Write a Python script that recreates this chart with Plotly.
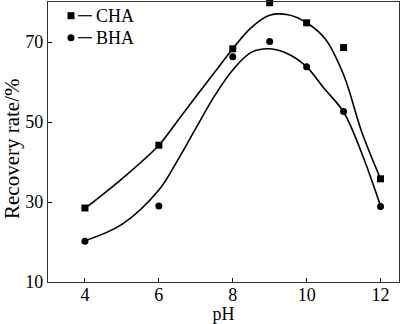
import plotly.graph_objects as go

# Measured points
ph = [4, 6, 8, 9, 10, 11, 12]
cha = [28.5, 44.2, 68.3, 79.8, 74.8, 68.6, 35.8]
bha = [20.2, 29.0, 66.3, 70.1, 63.8, 52.6, 28.9]

# Fitted curves
fit_x = [4, 5, 6, 6.5, 7, 7.5, 8, 8.5, 9, 9.5, 10, 10.5, 11, 11.5, 12]
cha_fit_y = [28.4, 35.8, 44.2, 50.2, 56.3, 62.3, 68.3, 73.6, 76.7, 76.8, 74.8, 70.8, 61.8, 47.3, 35.8]
bha_fit_y = [20.3, 24.4, 33.0, 40.3, 48.4, 56.4, 63.0, 67.4, 68.3, 67.0, 63.8, 58.1, 52.5, 42.0, 29.0]

x_ticks = [4, 6, 8, 10, 12]
y_ticks = [10, 30, 50, 70]
legend_names = ["CHA", "BHA"]
x_title = "pH"
y_title = "Recovery rate/%"

FONT = "Liberation Serif"

fig = go.Figure()
fig.add_trace(go.Scatter(x=fit_x, y=cha_fit_y, mode="lines",
                         line=dict(color="black", width=1.6, shape="spline", smoothing=1.0),
                         showlegend=False, hoverinfo="skip"))
fig.add_trace(go.Scatter(x=fit_x, y=bha_fit_y, mode="lines",
                         line=dict(color="black", width=1.6, shape="spline", smoothing=1.0),
                         showlegend=False, hoverinfo="skip"))
fig.add_trace(go.Scatter(x=ph, y=cha, mode="markers", name=legend_names[0],
                         marker=dict(symbol="square", size=7, color="black"),
                         showlegend=False, cliponaxis=False))
fig.add_trace(go.Scatter(x=ph, y=bha, mode="markers", name=legend_names[1],
                         marker=dict(symbol="circle", size=7, color="black"),
                         showlegend=False, cliponaxis=False))

# Legend drawn as shapes + text (marker, dash, label)
leg_x = 0.0655
leg_ys = [0.951, 0.8725]
shapes = []
annotations = []
for i, (name, ly) in enumerate(zip(legend_names, leg_ys)):
    kind = "rect" if i == 0 else "circle"
    shapes.append(dict(type=kind, xref="paper", yref="paper",
                       xsizemode="pixel", ysizemode="pixel",
                       xanchor=leg_x, yanchor=ly,
                       x0=-3.5, x1=3.5, y0=-3.5, y1=3.5,
                       fillcolor="black", line=dict(width=0)))
    shapes.append(dict(type="line", xref="paper", yref="paper",
                       x0=0.0855, x1=0.1254, y0=ly, y1=ly,
                       line=dict(color="black", width=1.2)))
    annotations.append(dict(text=name, xref="paper", yref="paper",
                            x=0.131, y=ly, xanchor="left", yanchor="middle",
                            showarrow=False, font=dict(family=FONT, size=18, color="black")))

# y-axis title (placed slightly below the axis centre, as in the reference)
annotations.append(dict(text=y_title, xref="paper", yref="paper",
                        x=0.0, y=0.475, xanchor="right", yanchor="middle",
                        xshift=-23, textangle=-90, showarrow=False, borderpad=0,
                        font=dict(family=FONT, size=21, color="black")))

fig.update_layout(
    width=400, height=324,
    margin=dict(l=48, r=1, t=2, b=42),
    paper_bgcolor="white", plot_bgcolor="white",
    font=dict(family=FONT, size=18, color="black"),
    shapes=shapes, annotations=annotations,
    showlegend=False,
)
fig.update_xaxes(range=[3, 12.5], tickvals=x_ticks, ticks="inside", ticklen=4,
                 tickcolor="black", showline=True, linecolor="#333", linewidth=1.3,
                 mirror=True, showgrid=False, zeroline=False, ticklabelstandoff=-4,
                 title=dict(text=x_title, font=dict(size=18), standoff=0))
fig.update_yaxes(range=[10, 80], tickvals=y_ticks, ticks="inside", ticklen=4,
                 tickcolor="black", showline=True, linecolor="#333", linewidth=1.3,
                 mirror=True, showgrid=False, zeroline=False)

fig.write_html("out.html")
